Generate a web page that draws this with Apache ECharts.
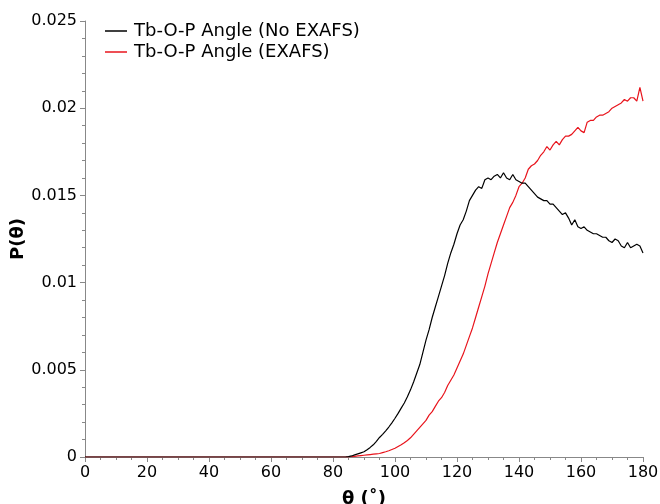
<!DOCTYPE html>
<html>
<head>
<meta charset="utf-8">
<script src="https://cdn.jsdelivr.net/npm/echarts@6/dist/echarts.min.js"></script>
<style>html,body{margin:0;padding:0;background:#fff}#c{width:660px;height:504px}</style>
</head>
<body>
<div id="c"></div>
<script>
// angle grid (degrees): 0..180 step 1
var angles = [];
for (var a = 0; a <= 180; a++) angles.push(a);

// values for angles 0..84 are zero for both series
var zerosTo84 = new Array(85).fill(0);

// No EXAFS, angles 85..180
var noExafsTail = [
 0.00002,0.00006,0.00012,0.00018,0.00024,0.0003,0.00042,0.00055,0.0007,0.0009,
 0.00112,0.0013,0.0015,0.00172,0.00196,0.00222,0.0025,0.0028,0.0031,0.00345,
 0.00385,0.0043,0.0048,0.0053,0.0060,0.0067,0.0073,0.0080,0.0086,0.0092,
 0.0098,0.0104,0.0111,0.0117,0.0122,0.0128,0.0133,0.0136,0.0141,0.0147,
 0.0150,0.0153,0.0155,0.0154,0.0159,0.0160,0.0159,0.0161,0.0162,0.0160,
 0.0163,0.0160,0.0159,0.0162,0.0159,0.0158,0.0157,0.0157,0.0155,0.0153,
 0.0151,0.0149,0.0148,0.0147,0.0147,0.0145,0.0145,0.0143,0.0141,0.0139,
 0.0140,0.0137,0.0133,0.0136,0.0132,0.0131,0.0132,0.0130,0.0129,0.0128,
 0.0128,0.0127,0.0126,0.0126,0.0124,0.0123,0.0125,0.0124,0.0121,0.0120,
 0.0123,0.0120,0.0121,0.0122,0.0121,0.0117
];

// EXAFS, angles 85..180
var exafsTail = [
 0.00001,0.00002,0.00004,0.00006,0.00008,0.0001,0.00012,0.00014,0.00016,0.00018,
 0.0002,0.00025,0.0003,0.00036,0.00043,0.0005,0.0006,0.0007,0.00082,0.00095,
 0.0011,0.0013,0.0015,0.0017,0.0019,0.0021,0.0024,0.0026,0.0029,0.0032,
 0.0034,0.0037,0.0041,0.0044,0.0047,0.0051,0.0055,0.0059,0.0064,0.0069,
 0.0074,0.0080,0.0086,0.0092,0.0098,0.0105,0.0111,0.0117,0.0123,0.0128,
 0.0133,0.0138,0.0143,0.0146,0.0150,0.0155,0.0157,0.0160,0.0165,0.0167,
 0.0168,0.0170,0.0173,0.0175,0.0178,0.0176,0.0179,0.0181,0.0179,0.0182,
 0.0184,0.0184,0.0185,0.0187,0.0189,0.0187,0.0186,0.0192,0.0193,0.0193,
 0.0195,0.0196,0.0196,0.0197,0.0198,0.0200,0.0201,0.0202,0.0203,0.0205,
 0.0204,0.0206,0.0206,0.0204,0.0212,0.0204
];

var noExafs = zerosTo84.concat(noExafsTail);
var exafs = zerosTo84.concat(exafsTail);

var xTicks = [0,20,40,60,80,100,120,140,160,180];
var yTicks = [0,0.005,0.01,0.015,0.02,0.025];

function pairs(xs, ys){ return xs.map(function(x,i){ return [x, ys[i]]; }); }

var font = 'DejaVu Sans';
var black = '#000000';
var red = '#e8141c';
var chart = echarts.init(document.getElementById('c'), null, {renderer:'canvas'});
chart.setOption({
  animation: false,
  backgroundColor: '#fff',
  grid: {left: 85, right: 17, top: 21, bottom: 47, containLabel: false, outerBoundsMode: 'none'},
  legend: {
    orient: 'vertical', left: 100, top: 17, itemWidth: 22, itemHeight: 1.5, itemGap: 3,
    icon: 'rect',
    textStyle: {fontFamily: font, fontSize: 18, color: '#000', padding: [0,0,0,2]},
    data: ['Tb-O-P Angle (No EXAFS)', 'Tb-O-P Angle (EXAFS)']
  },
  xAxis: {
    type: 'value', min: xTicks[0], max: xTicks[xTicks.length-1], interval: 20,
    name: 'θ (˚)', nameLocation: 'middle', nameGap: 33, nameMoveOverlap: false,
    nameTextStyle: {fontFamily: font, fontSize: 18, fontWeight: 'bold', color: '#000'},
    axisLine: {show: true, lineStyle: {color: '#888', width: 1}},
    axisTick: {show: true, inside: false, length: 5, lineStyle: {color: '#888'}},
    minorTick: {show: true, splitNumber: 4, length: 3, lineStyle: {color: '#888'}},
    splitLine: {show: false},
    axisLabel: {fontFamily: font, fontSize: 16, color: '#000', margin: 8}
  },
  yAxis: {
    type: 'value', min: yTicks[0], max: yTicks[yTicks.length-1], interval: 0.005,
    name: 'P(θ)', nameLocation: 'middle', nameGap: 58, nameRotate: 90, nameMoveOverlap: false,
    nameTextStyle: {fontFamily: font, fontSize: 18, fontWeight: 'bold', color: '#000'},
    axisLine: {show: true, lineStyle: {color: '#888', width: 1}},
    axisTick: {show: true, inside: false, length: 5, lineStyle: {color: '#888'}},
    minorTick: {show: true, splitNumber: 5, length: 3, lineStyle: {color: '#888'}},
    splitLine: {show: false},
    axisLabel: {fontFamily: font, fontSize: 16, color: '#000', margin: 8,
      formatter: function(v){ return String(parseFloat(v.toFixed(4))); }}
  },
  series: [
    {name: 'Tb-O-P Angle (No EXAFS)', type: 'line', showSymbol: false, symbol: 'none',
     data: pairs(angles, noExafs), lineStyle: {color: black, width: 1.2}, itemStyle:{color: black}, color: black, z: 3},
    {name: 'Tb-O-P Angle (EXAFS)', type: 'line', showSymbol: false, symbol: 'none',
     data: pairs(angles, exafs), lineStyle: {color: red, width: 1.2}, itemStyle:{color: red}, color: red, z: 2}
  ]
});
</script>
</body>
</html>
